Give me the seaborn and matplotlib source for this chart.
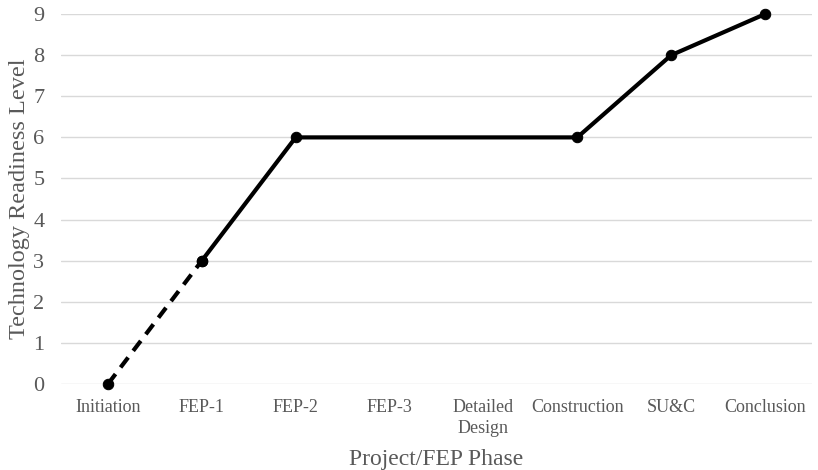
import numpy as np
import pandas as pd
import matplotlib
matplotlib.use("Agg")
import matplotlib.pyplot as plt
import seaborn as sns

# chart data
phases = ["Initiation", "FEP-1", "FEP-2", "FEP-3", "Detailed\nDesign",
          "Construction", "SU&C", "Conclusion"]
trl = [0, 3, 6, np.nan, np.nan, 6, 8, 9]
dashed_phases = ["Initiation", "FEP-1"]

sns.set_theme(style="white")
plt.rcParams.update({
    "font.family": ["Liberation Serif", "DejaVu Serif"],
})

df = pd.DataFrame({"phase": phases, "trl": trl})
df["pos"] = np.arange(len(phases))
df_dash = df[df["phase"].isin(dashed_phases)]
df_solid = df[(df["phase"] != "Initiation") & df["trl"].notna()]

fig = plt.figure(figsize=(8.18, 4.70), dpi=100)
ax = fig.add_axes([0.0746, 0.183, 0.918, 0.787])

sns.lineplot(data=df_dash, x="pos", y="trl", color="black", linewidth=3,
             linestyle=(0, (3, 2)), marker="o", markersize=7.5,
             markeredgecolor="black", ax=ax)
sns.lineplot(data=df_solid, x="pos", y="trl", color="black", linewidth=3,
             marker="o", markersize=7.5, markeredgecolor="black", ax=ax)

ax.set_xlim(-0.5, len(phases) - 0.5)
ax.set_ylim(0, 9)
ax.set_yticks(range(0, 10))
ax.set_xticks(df["pos"])
ax.set_xticklabels(phases, fontsize=13, color="#595959", linespacing=1.25)
ax.tick_params(axis="y", labelsize=16, labelcolor="#595959", length=0, pad=12)
ax.tick_params(axis="x", length=0, pad=11)
ax.yaxis.grid(True, color="#d9d9d9", linewidth=1)
ax.set_axisbelow(True)
for s in ax.spines.values():
    s.set_visible(False)

ax.set_xlabel("Project/FEP Phase", fontsize=17, color="#595959", labelpad=9)
ax.set_ylabel("Technology Readiness Level", fontsize=17.5, color="#595959", labelpad=2)
for line in ax.lines:
    line.set_clip_on(False)

fig.savefig("out.png", dpi=100)
